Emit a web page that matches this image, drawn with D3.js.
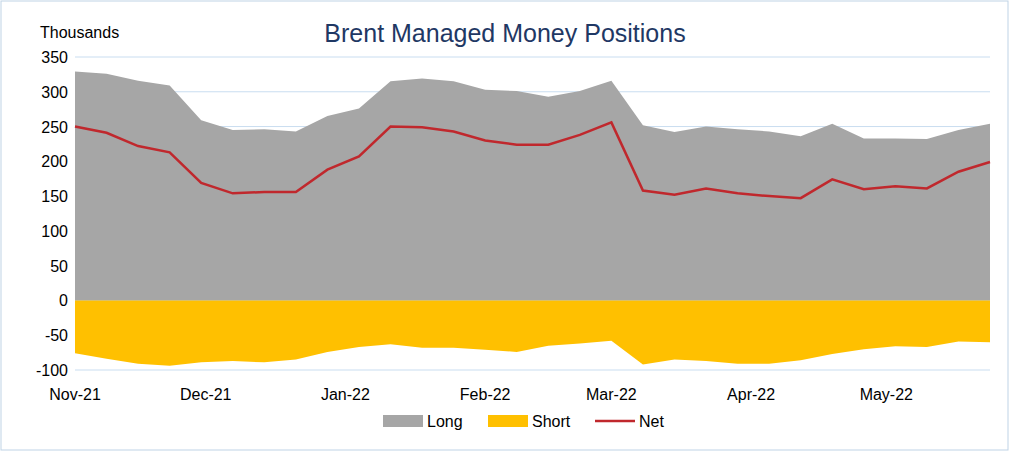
<!DOCTYPE html>
<html><head><meta charset="utf-8">
<script src="https://cdn.jsdelivr.net/npm/d3@7"></script>
<style>body{margin:0;background:#fff;font-family:"Liberation Sans",Arial,sans-serif}</style>
</head><body><svg id="chart" width="1010" height="452"></svg>
<script>
// weekly reports, thousands of contracts
const longPos = [329,326,316,309,259,245,246,243,265,276,315,319,315,303,301,293,301,316,252,242,250,246,243,236,254,233,233,232,245,254];
const shortPos = [-76,-84,-91,-94,-89,-87,-89,-85,-74,-67,-63,-68,-68,-71,-74,-65,-62,-58,-92,-85,-87,-91,-91,-86,-77,-70,-66,-67,-59,-60];
const netPos = [250,241,222,213,169,154,156,156,188,207,250,249,243,230,224,224,238,256,158,152,161,154,150,147,174,160,164,161,185,199];
const yTicks = [-100,-50,0,50,100,150,200,250,300,350];
const monthLabels = ["Nov-21","Dec-21","Jan-22","Feb-22","Mar-22","Apr-22","May-22"];

const start = new Date(2021, 10, 2);
const dates = longPos.map((_, i) => d3.timeDay.offset(start, i * 7));
const monthTicks = [start, ...d3.range(1, 7).map(m => new Date(2021, 10 + m, 1))];

const svg = d3.select("#chart");
svg.append("rect").attr("x", 1).attr("y", 1).attr("width", 1007).attr("height", 449)
  .attr("fill", "#fff").attr("stroke", "#BFD3E6");

const x = d3.scaleTime().domain([dates[0], dates[dates.length - 1]]).range([75, 990]);
const y = d3.scaleLinear().domain([-100, 350]).range([370, 57]);

// gridlines
svg.append("g").selectAll("line").data(yTicks).join("line")
  .attr("x1", 75).attr("x2", 990).attr("y1", d => y(d)).attr("y2", d => y(d))
  .attr("stroke", "#C9DDF0").attr("stroke-width", 1);

svg.append("path").datum(longPos)
  .attr("fill", "#A6A6A6")
  .attr("d", d3.area().x((d, i) => x(dates[i])).y0(y(0)).y1(d => y(d)));
svg.append("path").datum(shortPos)
  .attr("fill", "#FFC000")
  .attr("d", d3.area().x((d, i) => x(dates[i])).y0(y(0)).y1(d => y(d)));
svg.append("path").datum(netPos)
  .attr("fill", "none").attr("stroke", "#C0282D").attr("stroke-width", 2.5)
  .attr("d", d3.line().x((d, i) => x(dates[i])).y(d => y(d)));

// y labels
svg.append("g").selectAll("text").data(yTicks).join("text")
  .attr("x", 68).attr("y", d => y(d) + 6).attr("text-anchor", "end")
  .attr("font-size", 16).attr("fill", "#000").text(d => d);

// x labels
svg.append("g").selectAll("text").data(monthTicks).join("text")
  .attr("x", d => x(d)).attr("y", 400).attr("text-anchor", "middle")
  .attr("font-size", 16).attr("fill", "#000").text((d, i) => monthLabels[i]);

svg.append("text").attr("x", 40).attr("y", 38).attr("font-size", 16).text("Thousands");
svg.append("text").attr("x", 505).attr("y", 42).attr("text-anchor", "middle")
  .attr("font-size", 25).attr("fill", "#1F3864").text("Brent Managed Money Positions");

// legend
const legend = [
  { name: "Long", color: "#A6A6A6", type: "rect", x: 383 },
  { name: "Short", color: "#FFC000", type: "rect", x: 488 },
  { name: "Net", color: "#C0282D", type: "line", x: 595 }
];
const lg = svg.append("g").selectAll("g").data(legend).join("g");
lg.filter(d => d.type === "rect").append("rect")
  .attr("x", d => d.x).attr("y", 415).attr("width", 40).attr("height", 12).attr("fill", d => d.color);
lg.filter(d => d.type === "line").append("line")
  .attr("x1", d => d.x).attr("x2", d => d.x + 40).attr("y1", 421).attr("y2", 421)
  .attr("stroke", d => d.color).attr("stroke-width", 2.5);
lg.append("text").attr("x", d => d.x + 44).attr("y", 427).attr("font-size", 16).text(d => d.name);
</script></body></html>
